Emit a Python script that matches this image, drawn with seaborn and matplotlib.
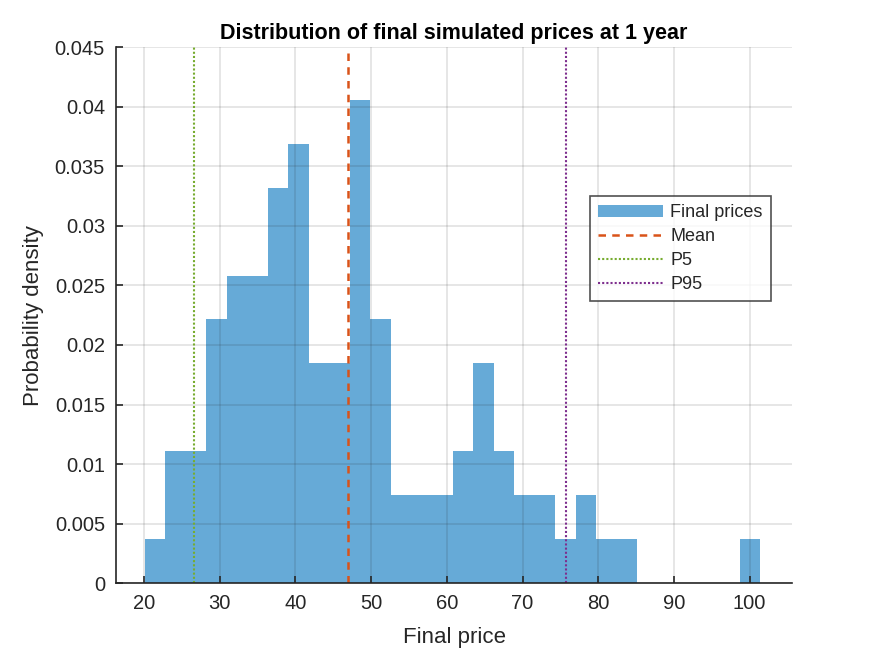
import numpy as np
import pandas as pd
import matplotlib
matplotlib.use("Agg")
import matplotlib.pyplot as plt
import seaborn as sns
from matplotlib.ticker import FuncFormatter

# Histogram: 30 bins between the min and max price
bin_start = 20.1
bin_stop = 101.4
bin_counts = [1, 3, 3, 6, 7, 7, 9, 10, 5, 5, 11, 6, 2, 2, 2,
              3, 5, 3, 2, 2, 1, 2, 1, 1, 0, 0, 0, 0, 0, 1]
mean_price = 46.95
p5_price = 26.6
p95_price = 75.8

n_bins = len(bin_counts)
edges = np.linspace(bin_start, bin_stop, n_bins + 1)
centers = (edges[:-1] + edges[1:]) / 2
hist_df = pd.DataFrame({"price": centers, "count": bin_counts})

sns.set_theme(style="white")
plt.rcParams["font.family"] = ["Liberation Sans", "DejaVu Sans"]
dark = (0.15, 0.15, 0.15)

fig = plt.figure(figsize=(8.75, 6.56), dpi=100)
ax = fig.add_axes([0.1326, 0.111, 0.7726, 0.817])

sns.histplot(data=hist_df, x="price", weights="count", bins=n_bins,
             binrange=(bin_start, bin_stop), stat="density",
             color=(0.0, 0.447, 0.741), alpha=0.6, edgecolor="none", linewidth=0,
             label="Final prices", ax=ax, zorder=1)
ax.axvline(mean_price, color=(0.85, 0.325, 0.098), linestyle=(0, (3, 2.5)), linewidth=1.8,
           label="Mean", zorder=4)
ax.axvline(p5_price, color=(0.466, 0.674, 0.188), linestyle=(0, (1, 1)), linewidth=1.5,
           label="P5", zorder=4)
ax.axvline(p95_price, color=(0.494, 0.184, 0.556), linestyle=(0, (1, 1)), linewidth=1.5,
           label="P95", zorder=4)

ax.set_xlim(16.3, 105.6)
ax.set_ylim(0, 0.045)
ax.set_xticks(np.arange(20, 101, 10))
ax.set_yticks(np.arange(0, 0.0451, 0.005))
ax.yaxis.set_major_formatter(FuncFormatter(lambda v, p: f"{v:.3f}".rstrip("0").rstrip(".") if v else "0"))

ax.set_axisbelow(False)
ax.grid(True, color=dark, alpha=0.15, linewidth=1.1, zorder=2)
for side in ["top", "right"]:
    ax.spines[side].set_visible(False)
for side in ["left", "bottom"]:
    ax.spines[side].set_color(dark)
    ax.spines[side].set_linewidth(1.2)
    ax.spines[side].set_zorder(5)
ax.tick_params(direction="in", length=5, width=1.2, colors=dark,
               labelsize=14.5, left=True, bottom=True, pad=8)

ax.set_title("Distribution of final simulated prices at 1 year", fontsize=15.5,
             fontweight="bold", pad=6, color="black")
ax.set_xlabel("Final price", fontsize=16, color=dark, labelpad=10)
ax.set_ylabel("Probability density", fontsize=16, color=dark, labelpad=8)

handles, labels = ax.get_legend_handles_labels()
order = [labels.index(name) for name in ["Final prices", "Mean", "P5", "P95"]]
leg = ax.legend([handles[i] for i in order], [labels[i] for i in order],
                loc="upper left", bbox_to_anchor=(0.701, 0.722), fontsize=13,
                frameon=True, fancybox=False, borderpad=0.45, labelspacing=0.38,
                handlelength=3.6, handletextpad=0.4, borderaxespad=0)
leg.get_frame().set_edgecolor(dark)
leg.get_frame().set_linewidth(1.2)
leg.set_zorder(6)

fig.savefig("out.png", dpi=100)
